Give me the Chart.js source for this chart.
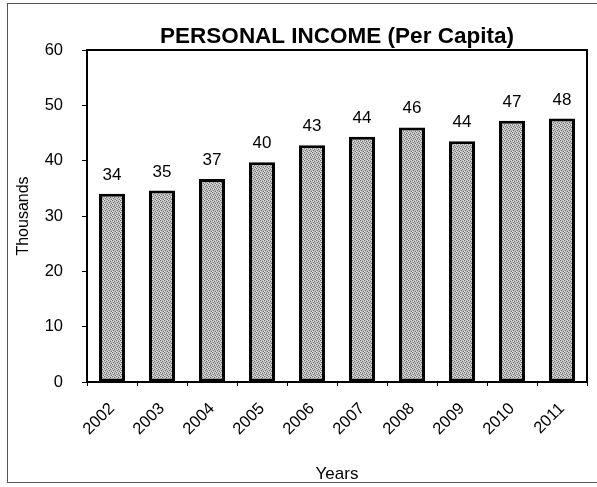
<!DOCTYPE html>
<html>
<head>
<meta charset="utf-8">
<script src="https://cdn.jsdelivr.net/npm/chart.js@4"></script>
<style>
  html, body { margin: 0; padding: 0; background: #fff; }
  #wrap { position: relative; width: 597px; height: 487px; overflow: hidden; }
  #frame { position: absolute; left: 7px; top: 3px; width: 620px; height: 480px; border: 1px solid #555; box-sizing: border-box; }
  canvas { position: absolute; left: 0; top: 0; }
</style>
</head>
<body>
<div id="wrap">
  <div id="frame"></div>
  <canvas id="c" width="597" height="487"></canvas>
</div>
<script>
const years = ['2002','2003','2004','2005','2006','2007','2008','2009','2010','2011'];
const incomeThousands = [34.0, 34.6, 36.7, 39.7, 42.8, 44.3, 46.0, 43.5, 47.2, 47.6];
const yTicks = [0, 10, 20, 30, 40, 50, 60];

const FONT = "'Liberation Sans', Arial, sans-serif";

// stipple texture for bars
function makePattern() {
  const p = document.createElement('canvas');
  p.width = 4; p.height = 4;
  const g = p.getContext('2d');
  g.fillStyle = '#bdbdbd';
  g.fillRect(0, 0, 4, 4);
  g.fillStyle = '#6e6e6e';
  [[0,0],[2,1],[1,2],[3,3]].forEach(([x,y]) => g.fillRect(x, y, 1, 1));
  g.fillStyle = '#e2e2e2';
  [[3,0],[1,1],[0,3]].forEach(([x,y]) => g.fillRect(x, y, 1, 1));
  return g.createPattern(p, 'repeat');
}

const boxPlugin = {
  id: 'box',
  afterDraw(chart) {
    const {ctx, chartArea: a} = chart;
    ctx.save();
    ctx.strokeStyle = '#000';
    ctx.lineWidth = 2;
    ctx.strokeRect(a.left, a.top, a.right - a.left, a.bottom - a.top);
    ctx.restore();
  }
};

const labelPlugin = {
  id: 'vals',
  afterDatasetsDraw(chart) {
    const ctx = chart.ctx;
    const meta = chart.getDatasetMeta(0);
    ctx.save();
    ctx.font = '17px ' + FONT;
    ctx.fillStyle = '#000';
    ctx.textAlign = 'center';
    ctx.textBaseline = 'alphabetic';
    meta.data.forEach((bar, i) => {
      ctx.fillText(String(Math.round(incomeThousands[i])), bar.x, bar.y - 14);
    });
    ctx.restore();
  }
};

new Chart(document.getElementById('c'), {
  type: 'bar',
  data: {
    labels: years,
    datasets: [{
      data: incomeThousands,
      backgroundColor: makePattern(),
      borderColor: '#000',
      borderWidth: 3,
      borderSkipped: false,
      barPercentage: 0.52,
      categoryPercentage: 1.0
    }]
  },
  options: {
    responsive: false,
    animation: false,
    devicePixelRatio: 1,
    layout: { padding: { left: 10, right: 10, top: 0, bottom: 0 } },
    plugins: {
      legend: { display: false },
      tooltip: { enabled: false },
      title: {
        display: true,
        fullSize: false,
        text: 'PERSONAL INCOME (Per Capita)',
        color: '#000',
        font: { family: FONT, size: 22.5, weight: 'bold' },
        padding: { top: 23, bottom: 0 }
      }
    },
    scales: {
      x: {
        grid: { display: true, drawOnChartArea: false, drawTicks: true, tickLength: 4, color: '#000', offset: true },
        border: { display: true, color: '#000', width: 2 },
        ticks: { color: '#000', font: { family: FONT, size: 16.5 }, maxRotation: 45, minRotation: 45, padding: 13 },
        title: { display: true, text: 'Years', color: '#000', font: { family: FONT, size: 17 }, padding: { top: 4, bottom: 2 } },
        afterFit(s) { s.height = 105; }
      },
      y: {
        min: 0, max: 60,
        afterBuildTicks(s) { s.ticks = yTicks.map(v => ({ value: v })); },
        grid: { display: true, drawOnChartArea: false, drawTicks: true, tickLength: 5, color: '#000' },
        border: { display: true, color: '#000', width: 2 },
        ticks: { color: '#000', font: { family: FONT, size: 16.5 }, padding: 19 },
        title: { display: true, text: 'Thousands', color: '#000', font: { family: FONT, size: 16 }, padding: { top: 4, bottom: 4 } },
        afterFit(s) { s.width = 77; }
      }
    }
  },
  plugins: [boxPlugin, labelPlugin]
});
</script>
</body>
</html>
